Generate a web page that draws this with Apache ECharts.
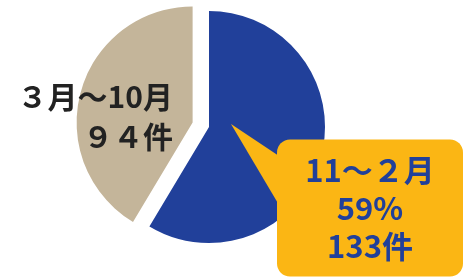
<!DOCTYPE html>
<html><head><meta charset="utf-8">
<script src="https://cdn.jsdelivr.net/npm/echarts@6/dist/echarts.min.js"></script>
<style>html,body{margin:0;padding:0;background:#fff}#c{width:463px;height:277px}</style>
</head><body><div id="c"></div>
<script>
const periods = ['11～２月', '３月～10月'];
const counts = [133, 94];
const percents = ['59%', '41%'];
const countLabels = ['133件', '９４件'];
const colors = ['#21409a', '#c4b59a'];

const chart = echarts.init(document.getElementById('c'), null, {renderer: 'canvas'});
const font = '"Noto Sans CJK JP", "Noto Sans", sans-serif';

chart.setOption({
  animation: false,
  graphic: [{
    type: 'polygon', z: 100,
    shape: {points: [[231, 124], [279, 156], [279, 205]]},
    style: {fill: '#fbb614'}
  }, {
    type: 'text', z: 100, x: 173, y: 117,
    style: {
      text: periods[1] + '\n' + countLabels[1],
      fill: '#222222', fontFamily: font, fontWeight: 'bold', fontSize: 30,
      lineHeight: 40, align: 'right', verticalAlign: 'middle'
    }
  }],
  series: [{
    type: 'pie',
    center: [209, 127],
    radius: 116,
    startAngle: 90,
    clockwise: true,
    selectedMode: 'single',
    selectedOffset: 17,
    silent: true,
    label: {position: 'inside'},
    labelLine: {show: false},
    data: [
      {
        name: periods[0], value: counts[0],
        itemStyle: {color: colors[0]},
        label: {
          formatter: periods[0] + '\n' + percents[0] + '\n' + countLabels[0],
          color: '#21409a', fontFamily: font, fontWeight: 'bold', fontSize: 31,
          lineHeight: 38, align: 'center', overflow: 'none',
          backgroundColor: '#fbb614', borderRadius: 13,
          width: 186, padding: [15, 0, 8, 0]
        }
      },
      {
        name: periods[1], value: counts[1], selected: true,
        itemStyle: {color: colors[1]},
        select: {itemStyle: {color: colors[1]}, label: {show: false}},
        label: {show: false}
      }
    ],
    labelLayout: function (p) {
      if (p.dataIndex === 0) return {x: 370, y: 208, align: 'center', verticalAlign: 'middle'};
    }
  }]
});
</script></body></html>
